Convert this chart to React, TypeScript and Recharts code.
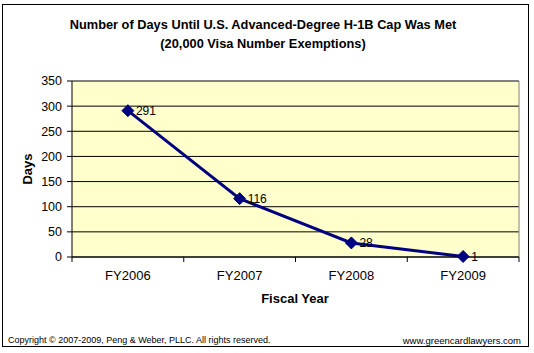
import React from 'react';
import { LineChart, Line, XAxis, YAxis, CartesianGrid, ReferenceLine, LabelList } from 'recharts';

const categories = ['FY2006', 'FY2007', 'FY2008', 'FY2009'];
const days = [291, 116, 28, 1];
const yTicks = [0, 50, 100, 150, 200, 250, 300, 350];

const data = categories.map((c, i) => ({ year: c, days: days[i] }));

const FONT = '"Liberation Sans", Arial, sans-serif';
const NAVY = '#000080';

const XTick = (props: any) => {
  const { x, y, payload, index } = props;
  const half = payload && payload.offset ? payload.offset : 0;
  return (
    <g>
      {index === 0 && <line x1={x - half} x2={x - half} y1={y} y2={y + 5} stroke="#000" />}
      <line x1={x + half} x2={x + half} y1={y} y2={y + 5} stroke="#000" />
      <text x={x} y={y + 18} textAnchor="middle" dominantBaseline="central" fontSize={13} fontFamily={FONT} fill="#000">
        {payload.value}
      </text>
    </g>
  );
};

const Diamond = (props: any) => {
  const { cx, cy } = props;
  if (cx == null || cy == null) return null;
  const r = 6;
  return <polygon points={`${cx},${cy - r} ${cx + r},${cy} ${cx},${cy + r} ${cx - r},${cy}`} fill={NAVY} stroke={NAVY} />;
};

export default function App() {
  return (
    <div style={{ position: 'absolute', left: 0, top: 0, width: 534, height: 353, background: '#fff' }}>
      <LineChart width={534} height={353} data={data} margin={{ top: 81, right: 15, bottom: 66, left: 0 }}>
        <CartesianGrid vertical={false} stroke="#000" fill="#FFFFCC" fillOpacity={1} />
        <XAxis
          dataKey="year"
          scale="band"
          height={30}
          tickSize={0}
          tickMargin={0}
          axisLine={{ stroke: '#000' }}
          tick={<XTick />}
          interval={0}
        />
        <YAxis
          width={72}
          domain={[0, 350]}
          ticks={yTicks}
          tickSize={5}
          tickMargin={5}
          axisLine={{ stroke: '#000' }}
          tickLine={{ stroke: '#000' }}
          tick={{ fontSize: 12.5, fill: '#000', fontFamily: FONT }}
        />
        <ReferenceLine y={350} stroke="#808080" />
        <ReferenceLine x="FY2009" position="end" stroke="#808080" />
        <Line
          dataKey="days"
          stroke={NAVY}
          strokeWidth={3}
          dot={<Diamond />}
          activeDot={false}
          isAnimationActive={false}
        >
          <LabelList dataKey="days" position="right" offset={8} fontSize={12} fill="#000" fontFamily={FONT} />
        </Line>
      </LineChart>
      <svg width={534} height={353} style={{ position: 'absolute', left: 0, top: 0, pointerEvents: 'none' }} fontFamily={FONT}>
        <rect x={2.5} y={4.5} width={526} height={342} fill="none" stroke="#000" />
        <text x={263} y={24} textAnchor="middle" dominantBaseline="central" fontSize={12.8} fontWeight="bold" fill="#000">
          Number of Days Until U.S. Advanced-Degree H-1B Cap Was Met
        </text>
        <text x={263} y={43} textAnchor="middle" dominantBaseline="central" fontSize={12.8} fontWeight="bold" fill="#000">
          (20,000 Visa Number Exemptions)
        </text>
        <text x={27} y={169} textAnchor="middle" dominantBaseline="central" fontSize={13} fontWeight="bold" fill="#000" transform="rotate(-90 27 169)">
          Days
        </text>
        <text x={295} y={298} textAnchor="middle" dominantBaseline="central" fontSize={13} fontWeight="bold" fill="#000">
          Fiscal Year
        </text>
        <text x={8} y={340} dominantBaseline="central" fontSize={9} fill="#000">
          Copyright © 2007-2009, Peng &amp; Weber, PLLC.  All rights reserved.
        </text>
        <text x={521} y={340} textAnchor="end" dominantBaseline="central" fontSize={9.5} fill="#000">
          www.greencardlawyers.com
        </text>
      </svg>
    </div>
  );
}
